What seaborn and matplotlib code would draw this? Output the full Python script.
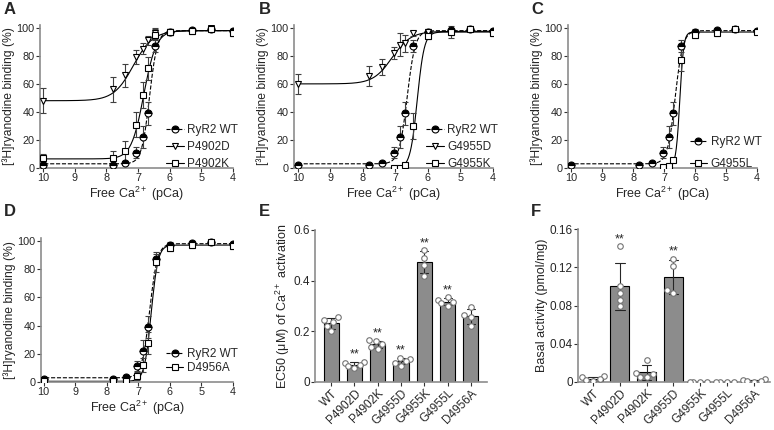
import numpy as np
import pandas as pd
import seaborn as sns
import matplotlib.pyplot as plt
from matplotlib.lines import Line2D
from matplotlib.ticker import FuncFormatter

# ---- data ----
pca = [10, 7.8, 7.4, 7.05, 6.85, 6.7, 6.45, 6.0, 5.3, 4.7, 4.0]
pca_short = [7.05, 6.85, 6.7, 6.45, 6.0, 5.3, 4.7, 4.0]

wt_mean = [2, 2, 3.5, 11, 22, 39, 87, 97, 98.5, 99.5, 98]
wt_sd = [1, 1, 1.5, 4, 8, 8, 4, 2, 1, 1, 1]
p4902d_mean = [48, 56, 66, 79, 85, 91, 96, 97, 98, 100, 97]
p4902d_sd = [9, 9, 8, 5, 4, 3, 4, 2, 2, 1, 2]
p4902k_mean = [7, 7, 12, 31, 52, 71, 95, 97, 97.5, 99.5, 96]
p4902k_sd = [3, 5, 7, 9, 9, 8, 4, 2, 2, 1, 2]
g4955d_mean = [60, 65.5, 72, 82, 88, 89, 96, 97, 97, 99.5, 97]
g4955d_sd = [7, 7, 6, 4, 8, 6, 2, 2, 4, 1, 2]
g4955k_mean = [0, 0, 2, 30, 94, 97, 99.5, 96]
g4955k_sd = [0.5, 0.5, 1, 9, 2, 2, 1, 2]
g4955l_mean = [1, 1.5, 6, 77, 95, 96, 99, 97]
g4955l_sd = [0.5, 0.5, 1, 8, 2, 2, 1, 1]
d4956a_mean = [0.5, 0.5, 1, 4.5, 12, 27.5, 85, 95, 97, 99, 96]
d4956a_sd = [0.5, 0.5, 0.5, 3, 5, 8, 7, 2, 2, 1, 2]

# Hill fit parameters: bottom, top, pEC50, Hill slope
wt_fit = [3, 98, 6.64, 3.5]
p4902d_fit = [48, 98, 7.15, 1.4]
p4902k_fit = [6.5, 98, 6.82, 2.2]
g4955d_fit = [60, 97.5, 7.1, 1.5]
g4955k_fit = [0, 97, 6.33, 4]
g4955l_fit = [1, 97, 6.49, 7]
d4956a_fit = [0.5, 97, 6.59, 4]

mutants = ["WT", "P4902D", "P4902K", "G4955D", "G4955K", "G4955L", "D4956A"]
ec50_pts = [[0.256, 0.245, 0.235, 0.222, 0.2],
            [0.08, 0.075, 0.068, 0.062, 0.055],
            [0.165, 0.16, 0.15, 0.14, 0.13],
            [0.095, 0.09, 0.082, 0.075, 0.065],
            [0.52, 0.49, 0.46, 0.42],
            [0.335, 0.325, 0.315, 0.31, 0.30],
            [0.295, 0.265, 0.255, 0.22]]
ec50_sig = ["", "**", "**", "**", "**", "**", ""]
basal_pts = [[0.006, 0.005, 0.003, 0.002, 0.001],
             [0.142, 0.1, 0.093, 0.086, 0.079],
             [0.023, 0.009, 0.008, 0.005, 0.005],
             [0.129, 0.121, 0.096, 0.093],
             [0, 0, 0, 0],
             [0, 0, 0, 0],
             [0.003, 0.002, 0.001, 0.001, 0.0]]
basal_sig = ["", "**", "", "**", "", "", ""]

sns.set_style("ticks")
plt.rcParams['font.family'] = ['Liberation Sans', 'DejaVu Sans']
plt.rcParams['mathtext.default'] = 'regular'

W, H = 774, 430
fig = plt.figure(figsize=(W / 100, H / 100), dpi=100)


def add_ax(left, top, right, bottom):
    return fig.add_axes([left / W, 1 - bottom / H, (right - left) / W, (bottom - top) / H])


def style(ax, size=8):
    sns.despine(ax=ax)
    for s in ["left", "bottom"]:
        ax.spines[s].set_color("0.55")
        ax.spines[s].set_linewidth(1.2)
    ax.tick_params(labelsize=size, length=2.8, width=0.8, color="0.2", pad=1)


def hill(x, p):
    b, t, pec, n = p
    return b + (t - b) / (1 + 10 ** ((x - pec) * n))


def curve_panel(ax, series, xlim, legend_spacing, legend_y):
    handles = []
    for label, x, m, sd, fit, ls, mk in series:
        xs = np.linspace(max(x), min(x), 200)
        df = pd.DataFrame({"x": xs, "y": hill(xs, fit)})
        sns.lineplot(data=df, x="x", y="y", ax=ax, color="k", lw=0.8, linestyle=ls)
        kw = dict(marker=mk, ms=5, mec="k", mew=0.8)
        if mk == "o":
            kw.update(mfc="k", fillstyle="top", markerfacecoloralt="white")
        else:
            kw.update(mfc="white")
        ax.errorbar(x, m, yerr=sd, ls="none", ecolor="0.25", elinewidth=0.8,
                    capsize=2, capthick=0.8, zorder=3, **kw)
        handles.append(Line2D([], [], color="k", lw=0.8, ls=ls, **kw))
    ax.set_xlim(*xlim)
    ax.set_ylim(0, 102)
    ax.set_xticks([10, 9, 8, 7, 6, 5, 4])
    ax.set_yticks([0, 20, 40, 60, 80, 100])
    ax.set_xlabel("Free Ca$^{2+}$ (pCa)", fontsize=9, labelpad=1)
    ax.set_ylabel("[³H]ryanodine binding (%)", fontsize=8.7, labelpad=1)
    style(ax, 7.8)
    ax.legend(handles, [s[0] for s in series], loc="lower right", bbox_to_anchor=(1.05, legend_y),
              frameon=False, fontsize=8.5, handlelength=1.5, handletextpad=0.3,
              labelspacing=legend_spacing, borderaxespad=0)


axA = add_ax(40, 25, 233, 168)
curve_panel(axA, [("RyR2 WT", pca, wt_mean, wt_sd, wt_fit, "--", "o"),
                  ("P4902D", pca, p4902d_mean, p4902d_sd, p4902d_fit, "-", "v"),
                  ("P4902K", pca, p4902k_mean, p4902k_sd, p4902k_fit, "-", "s")],
            (10.1, 4), 0.45, -0.05)

axB = add_ax(294, 25, 493, 168)
curve_panel(axB, [("RyR2 WT", pca, wt_mean, wt_sd, wt_fit, "--", "o"),
                  ("G4955D", pca, g4955d_mean, g4955d_sd, g4955d_fit, "-", "v"),
                  ("G4955K", pca_short, g4955k_mean, g4955k_sd, g4955k_fit, "-", "s")],
            (10.12, 4), 0.45, -0.05)

axC = add_ax(568, 25, 757, 168)
curve_panel(axC, [("RyR2 WT", pca, wt_mean, wt_sd, wt_fit, "--", "o"),
                  ("G4955L", pca_short, g4955l_mean, g4955l_sd, g4955l_fit, "-", "s")],
            (10.1, 4), 0.85, -0.05)

axD = add_ax(41, 238, 233, 382)
curve_panel(axD, [("RyR2 WT", pca, wt_mean, wt_sd, wt_fit, "--", "o"),
                  ("D4956A", pca, d4956a_mean, d4956a_sd, d4956a_fit, "-", "s")],
            (10.08, 4), 0.2, 0.02)


def bar_panel(ax, pts, sig, width, ylim, ticks, ylabel, off):
    df = pd.DataFrame([(m, v) for m, vals in zip(mutants, pts) for v in vals],
                      columns=["mutant", "value"])
    sns.barplot(data=df, x="mutant", y="value", order=mutants, errorbar="sd",
                color="0.55", edgecolor="black", linewidth=0.8, width=width,
                capsize=0.35, err_kws={"linewidth": 0.8, "color": "0.15"}, ax=ax)
    sns.swarmplot(data=df, x="mutant", y="value", order=mutants, color="white",
                  edgecolor="0.45", linewidth=0.8, size=4, ax=ax)
    for i, (vals, s) in enumerate(zip(pts, sig)):
        if s:
            top = max(np.mean(vals) + np.std(vals, ddof=1), max(vals))
            ax.text(i, top + off, s, ha="center", va="bottom", fontsize=9)
    ax.set_ylim(*ylim)
    ax.set_yticks(ticks)
    ax.yaxis.set_major_formatter(FuncFormatter(lambda v, p: "0" if v == 0 else f"{v:g}"))
    ax.set_xlabel("")
    ax.set_ylabel(ylabel, fontsize=9, labelpad=1)
    style(ax, 8.5)
    ax.tick_params(axis="x", labelrotation=45)
    for t in ax.get_xticklabels():
        t.set_ha("right")
        t.set_rotation_mode("anchor")


axE = add_ax(315, 230, 487, 382)
bar_panel(axE, ec50_pts, ec50_sig, 0.65, (0, 0.6), [0, 0.2, 0.4, 0.6],
          "EC50 (μM) of Ca$^{2+}$ activation", 0.004)
axE.set_xlim(-0.69, 6.69)

axF = add_ax(578, 229, 770, 382)
bar_panel(axF, basal_pts, basal_sig, 0.72, (0, 0.16), [0, 0.04, 0.08, 0.12, 0.16],
          "Basal activity (pmol/mg)", 0.001)
axF.set_xlim(-0.56, 6.6)

for letter, x, y in [("A", 4, 14), ("B", 259, 14), ("C", 531, 14),
                     ("D", 4, 216), ("E", 259, 216), ("F", 531, 216)]:
    fig.text(x / W, 1 - y / H, letter, fontsize=12, fontweight="bold", va="baseline")

fig.savefig("out.png", dpi=100)
